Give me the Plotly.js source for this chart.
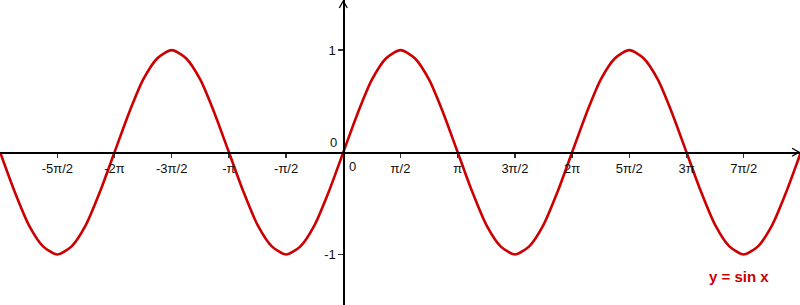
<!DOCTYPE html>
<html>
<head>
<meta charset="utf-8">
<script src="https://cdn.plot.ly/plotly-3.0.1.min.js"></script>
<style>html,body{margin:0;padding:0;background:#fff;}#chart{width:800px;height:305px;}</style>
</head>
<body>
<div id="chart"></div>
<script>
// x positions in eighth-pi steps (k * pi/8), from -3pi to 4pi
const eighthSteps = [-24,-23,-22,-21,-20,-19,-18,-17,-16,-15,-14,-13,-12,-11,-10,-9,-8,-7,-6,-5,-4,-3,-2,-1,
  0,1,2,3,4,5,6,7,8,9,10,11,12,13,14,15,16,17,18,19,20,21,22,23,24,25,26,27,28,29,30,31,32];
// y values at those positions
const curveValues = [
  0,-0.38,-0.71,-0.92,-1,-0.92,-0.71,-0.38,
  0,0.38,0.71,0.92,1,0.92,0.71,0.38,
  0,-0.38,-0.71,-0.92,-1,-0.92,-0.71,-0.38,
  0,0.38,0.71,0.92,1,0.92,0.71,0.38,
  0,-0.38,-0.71,-0.92,-1,-0.92,-0.71,-0.38,
  0,0.38,0.71,0.92,1,0.92,0.71,0.38,
  0,-0.38,-0.71,-0.92,-1,-0.92,-0.71,-0.38,
  0];
// x tick positions in half-pi steps and their labels
const xTickSteps = [-5,-4,-3,-2,-1,1,2,3,4,5,6,7];
const xTickLabels = ['-5π/2','-2π','-3π/2','-π','-π/2','π/2','π','3π/2','2π','5π/2','3π','7π/2'];
const yTickVals = [-1,1];
const yTickLabels = ['-1','1'];
const seriesName = 'y = sin x';

const xs = eighthSteps.map(k => k * Math.PI / 8);
const xTickVals = xTickSteps.map(k => k * Math.PI / 2);
const xRange = [-9.428, 12.542];
const yRange = [-1.494, 1.490];
const xAxisPos = (0 - yRange[0]) / (yRange[1] - yRange[0]);
const yAxisPos = (0 - xRange[0]) / (xRange[1] - xRange[0]);

const font = {family: 'Liberation Sans, Arial, sans-serif', size: 13, color: '#111'};
const red = 'rgb(204,0,0)';

const trace = {
  x: xs, y: curveValues, mode: 'lines', type: 'scatter',
  line: {color: red, width: 2.6, shape: 'spline', smoothing: 0.7},
  hoverinfo: 'skip', showlegend: false
};

const pxX = (xRange[1] - xRange[0]) / 800;
const pxY = (yRange[1] - yRange[0]) / 305;

const layout = {
  width: 800, height: 305,
  margin: {l: 0, r: 0, t: 0, b: 0},
  paper_bgcolor: '#fff', plot_bgcolor: '#fff',
  showlegend: false,
  xaxis: {
    range: xRange, anchor: 'free', position: xAxisPos,
    showgrid: false, zeroline: false, showline: true, linecolor: '#000', linewidth: 1.3,
    tickvals: xTickVals, ticktext: xTickLabels, ticks: 'outside', ticklen: 4, tickwidth: 1.3, tickcolor: '#333',
    tickfont: font, fixedrange: true
  },
  yaxis: {
    range: yRange, anchor: 'free', position: yAxisPos,
    showgrid: false, zeroline: false, showline: true, linecolor: '#000', linewidth: 1.3,
    tickvals: yTickVals, ticktext: yTickLabels, ticks: 'outside', ticklen: 5, tickwidth: 1.3, tickcolor: '#333',
    tickfont: font, fixedrange: true
  },
  shapes: [
    {type: 'path', xref: 'x', yref: 'y',
     path: `M ${-4*pxX} ${yRange[1]-8*pxY} L 0 ${yRange[1]-1*pxY} L ${4*pxX} ${yRange[1]-8*pxY}`,
     line: {color: '#000', width: 1.3}},
    {type: 'path', xref: 'x', yref: 'y',
     path: `M ${xRange[1]-8*pxX} ${4*pxY} L ${xRange[1]-1*pxX} 0 L ${xRange[1]-8*pxX} ${-4*pxY}`,
     line: {color: '#000', width: 1.3}}
  ],
  annotations: [
    {x: 0, y: 0, xref: 'x', yref: 'y', text: '0', showarrow: false, font: font,
     xanchor: 'left', yanchor: 'top', xshift: 4, yshift: -5},
    {x: 0, y: 0, xref: 'x', yref: 'y', text: '0', showarrow: false, font: font,
     xanchor: 'right', yanchor: 'bottom', xshift: -4, yshift: 0},
    {x: 10.87, y: -1.22, xref: 'x', yref: 'y', text: '<b>' + seriesName + '</b>', showarrow: false,
     font: {family: 'Liberation Sans, Arial, sans-serif', size: 15, color: red},
     xanchor: 'center', yanchor: 'middle'}
  ]
};

Plotly.newPlot('chart', [trace], layout, {staticPlot: true, displayModeBar: false});
</script>
</body>
</html>
